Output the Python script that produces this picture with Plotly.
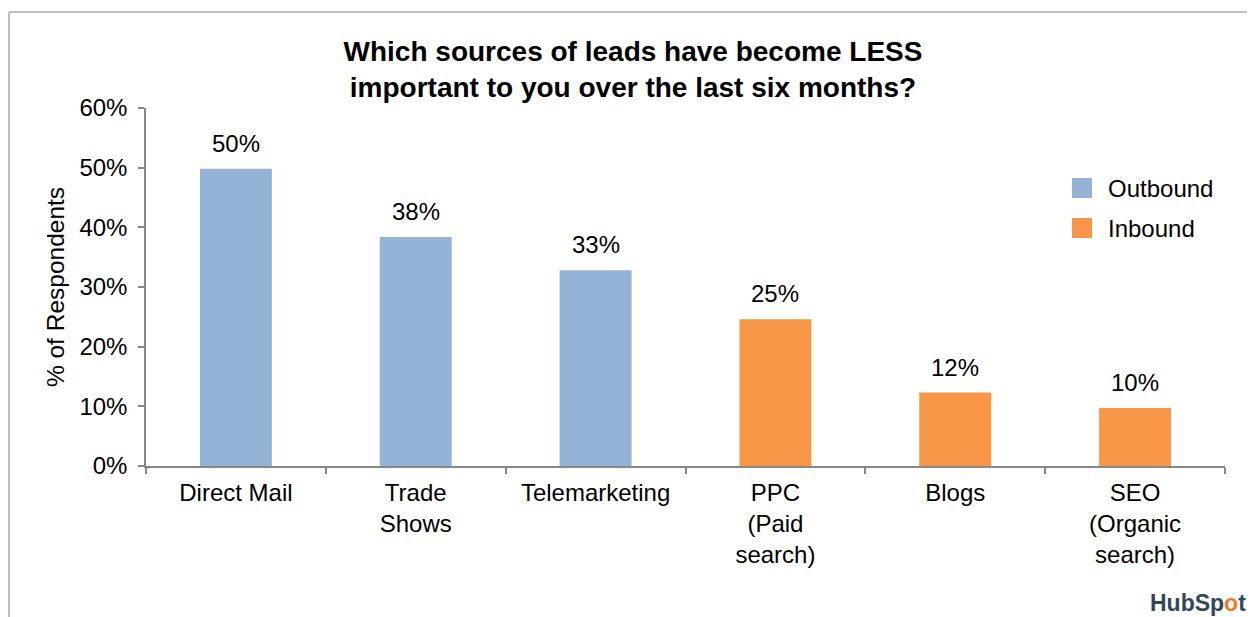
import plotly.graph_objects as go

categories = ["Direct Mail", "Trade<br>Shows", "Telemarketing", "PPC<br>(Paid<br>search)", "Blogs", "SEO<br>(Organic<br>search)"]
outbound_cats = categories[:3]
inbound_cats = categories[3:]
outbound_vals = [49.8, 38.4, 32.8]
inbound_vals = [24.6, 12.3, 9.7]
outbound_labels = ["50%", "38%", "33%"]
inbound_labels = ["25%", "12%", "10%"]
yticks = [0, 10, 20, 30, 40, 50, 60]
ytick_labels = ["0%", "10%", "20%", "30%", "40%", "50%", "60%"]

BLUE = "#95B3D7"
ORANGE = "#F79646"
FONT = "Liberation Sans, Arial, sans-serif"

# page is rendered with an 8px body margin; figure sized to fill the window
OFF = 8
W, H = 1255 - OFF, 617 - OFF
PL, PR, PT, PB = 146, 1225, 108, 466   # plot area in page pixels
ML, MR, MT, MB = PL - OFF, W + OFF - PR, PT - OFF, H + OFF - PB
pw = PR - PL
ph = PB - PT


def px(x):
    return (x - PL) / pw


def py(y):
    return (PB - y) / ph


fig = go.Figure()
fig.add_trace(go.Bar(x=outbound_cats, y=outbound_vals, name="Outbound",
                     marker=dict(color=BLUE, line=dict(width=0)), width=0.4,
                     showlegend=False))
fig.add_trace(go.Bar(x=inbound_cats, y=inbound_vals, name="Inbound",
                     marker=dict(color=ORANGE, line=dict(width=0)), width=0.4,
                     showlegend=False))

for cats, vals, labs in [(outbound_cats, outbound_vals, outbound_labels),
                         (inbound_cats, inbound_vals, inbound_labels)]:
    for c, v, t in zip(cats, vals, labs):
        fig.add_annotation(x=c, y=v, text=t, showarrow=False, yanchor="bottom",
                           yshift=10, font=dict(size=24, color="#000", family=FONT))

# legend (manual, to match the large square swatches)
legend_items = [("Outbound", BLUE, 188), ("Inbound", ORANGE, 228)]
for name, col, yc in legend_items:
    fig.add_shape(type="rect", xref="paper", yref="paper",
                  x0=px(1072), x1=px(1092), y0=py(yc - 10), y1=py(yc + 10),
                  fillcolor=col, line=dict(width=0))
    fig.add_annotation(xref="paper", yref="paper", x=px(1106), y=py(yc),
                       xanchor="left", yanchor="middle", showarrow=False, text=name,
                       font=dict(size=24, color="#000", family=FONT))

# HubSpot wordmark
fig.add_annotation(xref="paper", yref="paper", x=px(1248), y=py(603),
                   xanchor="right", yanchor="middle", showarrow=False,
                   text="<b>HubSp<span style='color:#F57722'>o</span>t</b>",
                   font=dict(size=23, color="#33475B", family=FONT))

# outer frame (top and left lines)
fig.add_shape(type="line", xref="paper", yref="paper",
              x0=px(9), x1=px(1270), y0=py(12), y1=py(12),
              line=dict(color="#BFBFBF", width=2))
fig.add_shape(type="line", xref="paper", yref="paper",
              x0=px(9), x1=px(9), y0=py(12), y1=py(640),
              line=dict(color="#BFBFBF", width=2))

fig.update_layout(
    width=W, height=H,
    margin=dict(l=ML, r=MR, t=MT, b=MB),
    paper_bgcolor="white", plot_bgcolor="white",
    barmode="overlay",
    title=dict(text="<b>Which sources of leads have become LESS<br>important to you over the last six months?</b>",
               x=(633 - OFF) / W, xanchor="center", y=1 - (61 - OFF) / H, yanchor="middle",
               font=dict(size=28, color="#000", family=FONT)),
    font=dict(family=FONT, color="#000"),
    showlegend=False,
    xaxis=dict(categoryorder="array", categoryarray=categories,
               showline=True, linecolor="#878787", linewidth=1.5,
               ticks="outside", tickson="boundaries", ticklen=6, tickcolor="#878787",
               tickwidth=1.5, tickfont=dict(size=24, color="#000", family=FONT),
               ticklabelstandoff=4,
               showgrid=False, zeroline=False, fixedrange=True),
    yaxis=dict(range=[0, 60], tickvals=yticks, ticktext=ytick_labels,
               showline=True, linecolor="#878787", linewidth=1.5,
               ticks="outside", ticklen=6, tickcolor="#878787", tickwidth=1.5,
               tickfont=dict(size=24, color="#000", family=FONT),
               ticklabelstandoff=6,
               title=dict(text="% of Respondents", font=dict(size=24.5, color="#000", family=FONT),
                          standoff=8),
               showgrid=False, zeroline=False, fixedrange=True),
)

fig.write_html("out.html")
